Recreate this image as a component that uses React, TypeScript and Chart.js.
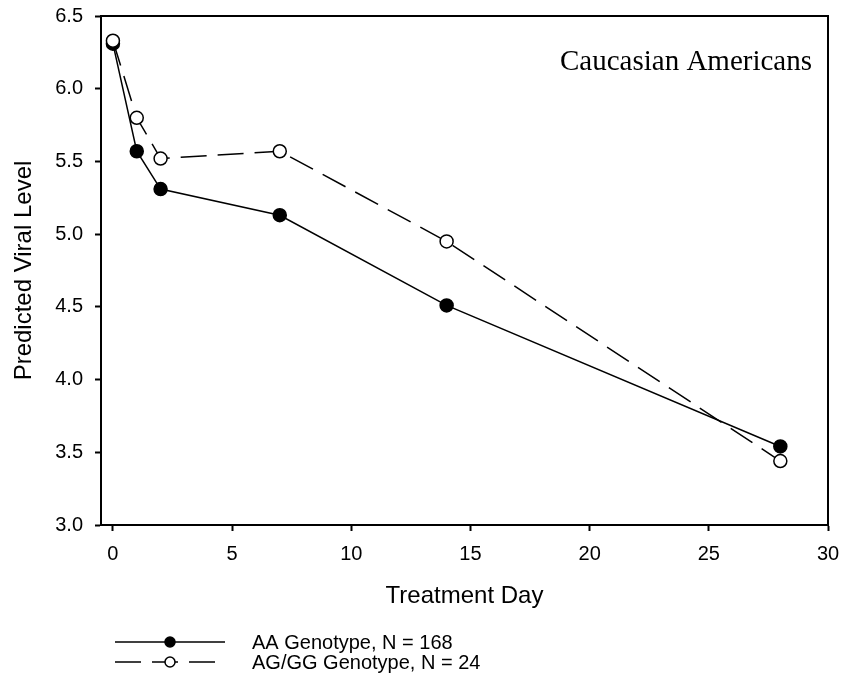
import React, { useEffect, useRef } from "react";
import { Chart, registerables } from "chart.js";

Chart.register(...registerables);

// ---- data ----
const days = [0, 1, 2, 7, 14, 28];
const aaValues = [6.31, 5.57, 5.31, 5.13, 4.51, 3.54];
const aggValues = [6.33, 5.8, 5.52, 5.57, 4.95, 3.44];
const xTickValues = [0, 5, 10, 15, 20, 25, 30];
const yTickValues = [3.0, 3.5, 4.0, 4.5, 5.0, 5.5, 6.0, 6.5];
const seriesLabels = ["AA Genotype, N = 168", "AG/GG Genotype, N = 24"];
const panelLabel = "Caucasian Americans";
const xTitle = "Treatment Day";
const yTitle = "Predicted Viral Level";

const SANS = "'Liberation Sans', Arial, sans-serif";
const SERIF = "'Liberation Serif', 'Times New Roman', serif";

const framePlugin = {
  id: "frameAndExtras",
  afterDatasetsDraw(chart: any) {
    const { ctx, chartArea } = chart;
    ctx.save();
    ctx.strokeStyle = "#000";
    ctx.lineWidth = 2;
    ctx.setLineDash([]);
    ctx.strokeRect(chartArea.left, chartArea.top, chartArea.right - chartArea.left, chartArea.bottom - chartArea.top);
    ctx.fillStyle = "#000";
    ctx.font = `29px ${SERIF}`;
    ctx.textAlign = "right";
    ctx.textBaseline = "alphabetic";
    ctx.fillText(panelLabel, chartArea.right - 16, chartArea.top + 54);
    ctx.restore();
  },
  afterDraw(chart: any) {
    const { ctx } = chart;
    const x0 = 115;
    const x1 = 225;
    const xm = 170;
    const xText = 252;
    chart.data.datasets.forEach((ds: any, i: number) => {
      const y = 642 + i * 20;
      ctx.save();
      ctx.strokeStyle = ds.borderColor;
      ctx.lineWidth = ds.borderWidth;
      ctx.setLineDash(ds.borderDash || []);
      ctx.beginPath();
      ctx.moveTo(x0, y);
      ctx.lineTo(x1, y);
      ctx.stroke();
      ctx.setLineDash([]);
      ctx.beginPath();
      ctx.arc(xm, y, 5, 0, Math.PI * 2);
      ctx.fillStyle = ds.pointBackgroundColor;
      ctx.fill();
      ctx.lineWidth = ds.pointBorderWidth;
      ctx.strokeStyle = ds.pointBorderColor;
      ctx.stroke();
      ctx.fillStyle = "#000";
      ctx.font = `20px ${SANS}`;
      ctx.textAlign = "left";
      ctx.textBaseline = "middle";
      ctx.fillText(ds.label, xText, y + 1);
      ctx.restore();
    });
  },
};

export default function App() {
  const canvasRef = useRef<HTMLCanvasElement | null>(null);

  useEffect(() => {
    if (!canvasRef.current) return;
    const chart = new Chart(canvasRef.current, {
      type: "line",
      data: {
        datasets: [
          {
            label: seriesLabels[0],
            data: days.map((d, i) => ({ x: d, y: aaValues[i] })),
            borderColor: "#000",
            borderWidth: 1.5,
            pointRadius: 6.5,
            pointBackgroundColor: "#000",
            pointBorderColor: "#000",
            pointBorderWidth: 1.5,
            tension: 0,
            order: 1,
          },
          {
            label: seriesLabels[1],
            data: days.map((d, i) => ({ x: d, y: aggValues[i] })),
            borderColor: "#000",
            borderWidth: 1.5,
            borderDash: [26, 11],
            pointRadius: 6.5,
            pointBackgroundColor: "#fff",
            pointBorderColor: "#000",
            pointBorderWidth: 1.5,
            tension: 0,
            order: 0,
          },
        ],
      },
      options: {
        responsive: false,
        animation: false,
        events: [],
        layout: { padding: { top: 16, right: 22, left: 0, bottom: 0 } },
        plugins: {
          legend: { display: false },
          tooltip: { enabled: false },
        },
        scales: {
          x: {
            type: "linear",
            min: -0.5,
            max: 30,
            afterBuildTicks: (scale: any) => {
              scale.ticks = xTickValues.map((v) => ({ value: v }));
            },
            afterFit: (scale: any) => {
              scale.height = 156;
              scale.paddingLeft = 0;
              scale.paddingRight = 0;
            },
            grid: {
              drawOnChartArea: false,
              drawTicks: true,
              tickLength: 6,
              tickWidth: 2,
              tickColor: "#000",
            },
            border: { display: true, color: "#000", width: 2 },
            ticks: {
              color: "#000",
              padding: 11,
              font: { family: SANS, size: 20 },
              maxRotation: 0,
            },
            title: {
              display: true,
              text: xTitle,
              color: "#000",
              font: { family: SANS, size: 24 },
              padding: { top: 0, bottom: 70 },
            },
          },
          y: {
            type: "linear",
            min: 3.0,
            max: 6.5,
            afterBuildTicks: (scale: any) => {
              scale.ticks = yTickValues.map((v) => ({ value: v }));
            },
            afterFit: (scale: any) => {
              scale.width = 101;
              scale.paddingTop = 0;
              scale.paddingBottom = 0;
            },
            grid: {
              drawOnChartArea: false,
              drawTicks: true,
              tickLength: 6,
              tickWidth: 2,
              tickColor: "#000",
            },
            border: { display: true, color: "#000", width: 2 },
            ticks: {
              color: "#000",
              padding: 12,
              font: { family: SANS, size: 20 },
              callback: (v: any) => Number(v).toFixed(1),
            },
            title: {
              display: true,
              text: yTitle,
              color: "#000",
              font: { family: SANS, size: 24 },
              padding: { top: 10, bottom: 0 },
            },
          },
        },
      },
      plugins: [framePlugin],
    } as any);
    return () => chart.destroy();
  }, []);

  return (
    <div style={{ position: "fixed", left: 0, top: 0, width: 850, height: 681, background: "#fff" }}>
      <canvas ref={canvasRef} width={850} height={681} style={{ display: "block" }} />
    </div>
  );
}
